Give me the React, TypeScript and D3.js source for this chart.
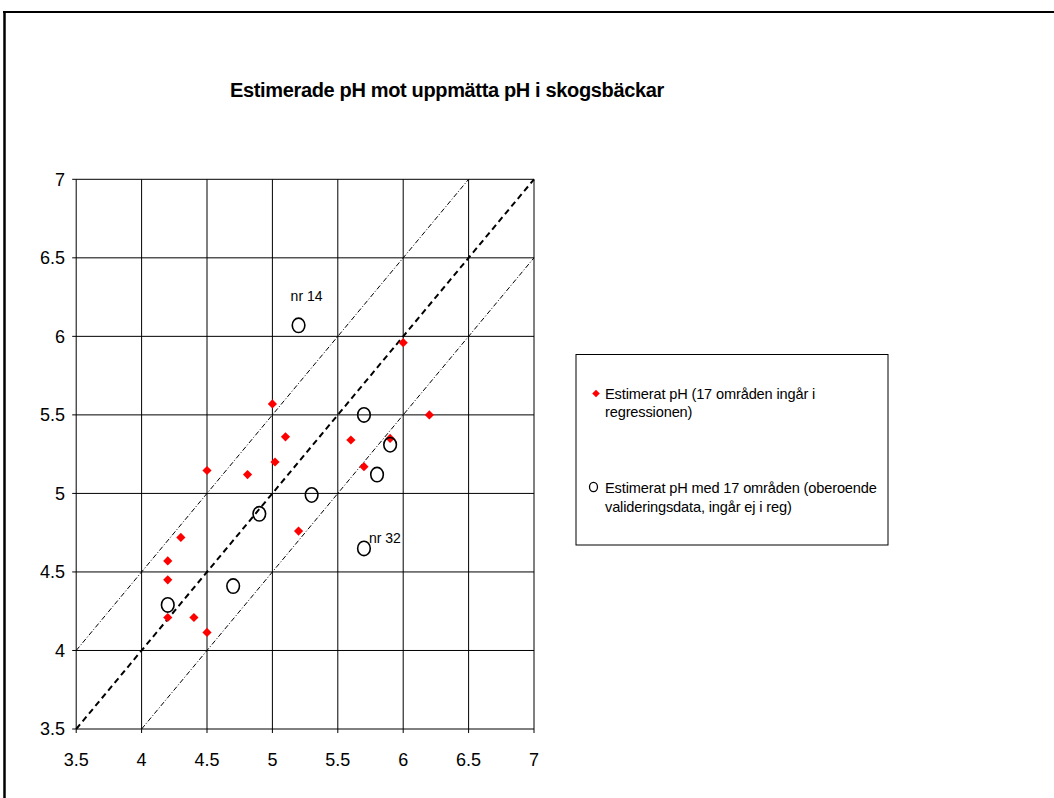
import React from "react";
import * as d3 from "d3";

const TITLE = "Estimerade pH mot uppmätta pH i skogsbäckar";
const TICKS = [3.5, 4, 4.5, 5, 5.5, 6, 6.5, 7];
const TICK_LABELS = ["3.5", "4", "4.5", "5", "5.5", "6", "6.5", "7"];

// Series 1: Estimerat pH (17 områden ingår i regressionen)
const regMeasured = [5.0, 5.1, 5.02, 4.5, 4.81, 5.2, 4.3, 4.2, 4.2, 4.2, 4.4, 4.5, 6.0, 6.2, 5.6, 5.9, 5.7];
const regEstimated = [5.57, 5.36, 5.2, 5.146, 5.12, 4.76, 4.72, 4.57, 4.45, 4.21, 4.21, 4.115, 5.96, 5.5, 5.34, 5.35, 5.17];

// Series 2: Estimerat pH med 17 områden (oberoende valideringsdata)
const valMeasured = [5.2, 5.3, 4.9, 4.7, 4.2, 5.7, 5.9, 5.8, 5.7];
const valEstimated = [6.07, 4.99, 4.87, 4.41, 4.29, 5.5, 5.31, 5.12, 4.65];

const annotations = [
  { text: "nr 14", x: 5.2, y: 6.07 },
  { text: "nr 32", x: 5.7, y: 4.65 },
];

const LEGEND = [
  ["Estimerat pH (17 områden ingår i", "regressionen)"],
  ["Estimerat pH med 17 områden (oberoende", "valideringsdata, ingår ej i reg)"],
];

// reference lines y = x + offset
const refOffsets = [0, 0.5, -0.5];

export default function App() {
  const W = 1054, H = 798;
  const x = d3.scaleLinear().domain([3.5, 7]).range([76.2, 534]);
  const y = d3.scaleLinear().domain([3.5, 7]).range([729, 179.3]);
  const font = "'Liberation Sans', Arial, sans-serif";

  const diamond = (cx: number, cy: number, r: number) =>
    `M${cx},${cy - r}L${cx + r},${cy}L${cx},${cy + r}L${cx - r},${cy}Z`;

  const lineGen = d3.line<[number, number]>().x((d) => x(d[0])).y((d) => y(d[1]));
  const refSeg = (off: number): [number, number][] => {
    const x0 = Math.max(3.5, 3.5 - off);
    const x1 = Math.min(7, 7 - off);
    return [[x0, x0 + off], [x1, x1 + off]];
  };

  return (
    <svg width={W} height={H} style={{ position: "absolute", left: 0, top: 0, background: "#fff" }}>
      <rect x={0} y={0} width={W} height={H} fill="#fff" />
      {/* outer frame */}
      <line x1={3} y1={12} x2={W} y2={12} stroke="#000" strokeWidth={2} />
      <line x1={4.5} y1={12} x2={4.5} y2={H} stroke="#000" strokeWidth={2.5} />

      <text x={447} y={97} textAnchor="middle" fontFamily={font} fontWeight="bold" fontSize={20} letterSpacing={-0.35}>
        {TITLE}
      </text>

      {/* grid */}
      {TICKS.map((t, i) => (
        <g key={"g" + i}>
          <line x1={x(t)} x2={x(t)} y1={y(7)} y2={y(3.5) + 4} stroke="#000" strokeWidth={1} />
          <line x1={x(3.5) - 4} x2={x(7)} y1={y(t)} y2={y(t)} stroke="#000" strokeWidth={1} />
          <text x={x(t)} y={766} textAnchor="middle" fontFamily={font} fontSize={18}>
            {TICK_LABELS[i]}
          </text>
          <text x={65} y={y(t)} dy="0.36em" textAnchor="end" fontFamily={font} fontSize={18}>
            {TICK_LABELS[i]}
          </text>
        </g>
      ))}

      {/* reference lines */}
      {refOffsets.map((off, i) => (
        <path
          key={"r" + i}
          d={lineGen(refSeg(off)) || ""}
          fill="none"
          stroke="#000"
          strokeWidth={off === 0 ? 2 : 1}
          strokeDasharray={off === 0 ? "6,4" : "5,2,1,2"}
        />
      ))}

      {/* series 1 diamonds */}
      {regMeasured.map((m, i) => (
        <path key={"d" + i} d={diamond(x(m), y(regEstimated[i]), 4.6)} fill="#ff0000" />
      ))}

      {/* series 2 circles */}
      {valMeasured.map((m, i) => (
        <ellipse key={"c" + i} cx={x(m)} cy={y(valEstimated[i])} rx={6.3} ry={7.2} fill="none" stroke="#000" strokeWidth={1.6} />
      ))}

      {/* annotations */}
      <text x={x(annotations[0].x) + 8} y={y(annotations[0].y) - 24} textAnchor="middle" fontFamily={font} fontSize={14}>
        {annotations[0].text}
      </text>
      <text x={x(annotations[1].x) + 5} y={y(annotations[1].y) - 5} fontFamily={font} fontSize={14}>
        {annotations[1].text}
      </text>

      {/* legend */}
      <rect x={576} y={354.5} width={312} height={190.5} fill="#fff" stroke="#000" strokeWidth={1} />
      <path d={diamond(596, 393.5, 3.8)} fill="#ff0000" />
      <ellipse cx={593.5} cy={487} rx={4} ry={4.6} fill="none" stroke="#000" strokeWidth={1.3} />
      {LEGEND.map((lines, i) =>
        lines.map((ln, j) => (
          <text key={"l" + i + j} x={605} y={(i === 0 ? 398.5 : 493) + j * 18.8} fontFamily={font} fontSize={14.6} letterSpacing={-0.15}>
            {ln}
          </text>
        ))
      )}
    </svg>
  );
}
